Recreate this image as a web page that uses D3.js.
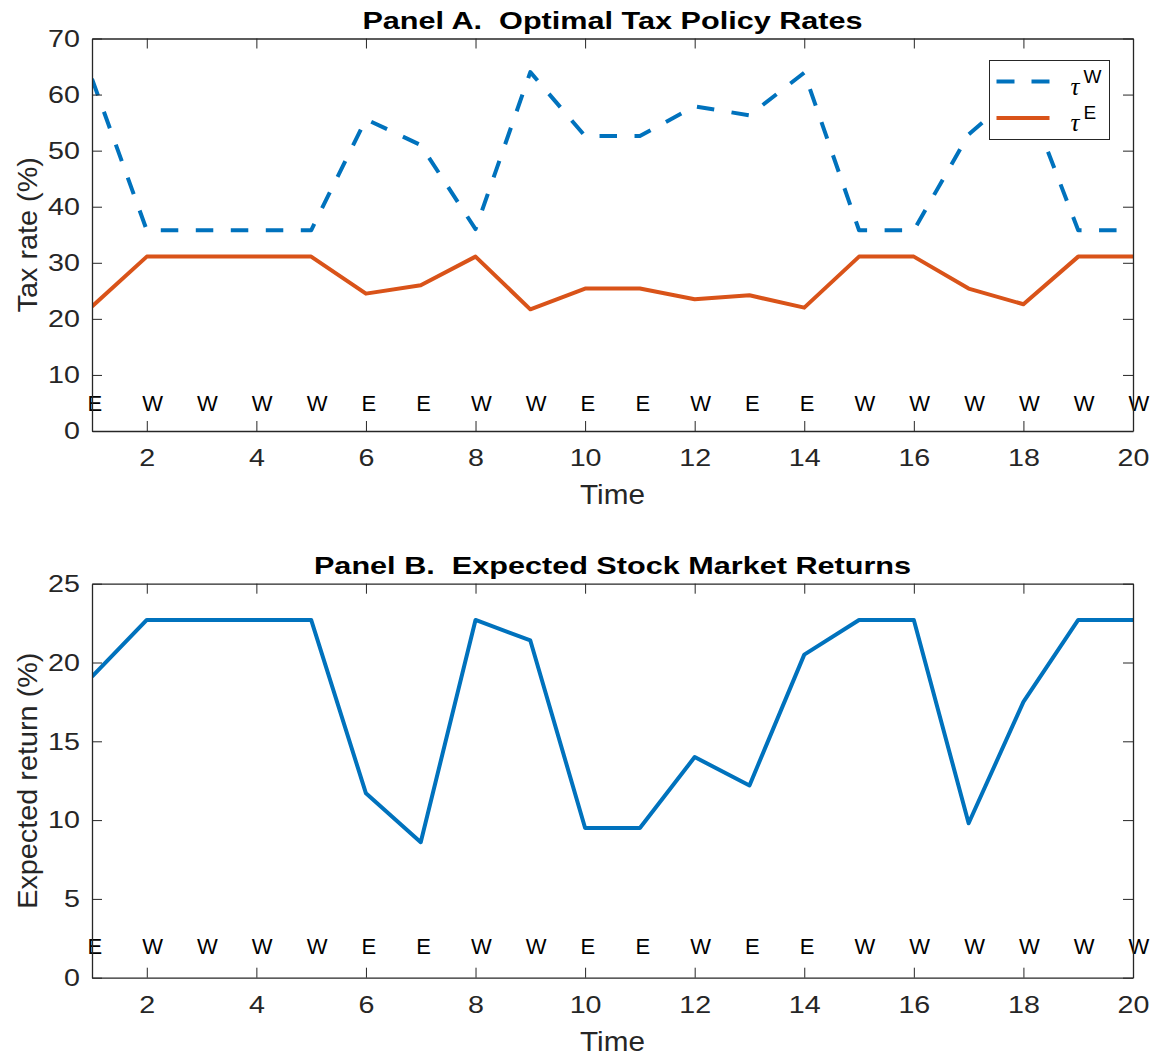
<!DOCTYPE html>
<html>
<head>
<meta charset="utf-8">
<script src="https://cdn.jsdelivr.net/npm/d3@7"></script>
<style>
  html, body { margin: 0; padding: 0; background: #fff; }
  svg { display: block; }
  text { font-family: "Liberation Sans", Arial, Helvetica, sans-serif; white-space: pre; }
</style>
</head>
<body>
<svg id="chart" width="1162" height="1061"></svg>
<script>
// Time periods and the party in power (E / W) in each period
const periods = [1, 2, 3, 4, 5, 6, 7, 8, 9, 10, 11, 12, 13, 14, 15, 16, 17, 18, 19, 20];
const regimes = ["E", "W", "W", "W", "W", "E", "E", "W", "W", "E", "E", "W", "E", "E", "W", "W", "W", "W", "W", "W"];

// Panel A: optimal tax rates (%)
const tauW = [62.8, 35.8, 35.8, 35.8, 35.8, 55.6, 51.0, 36.0, 64.0, 52.6, 52.6, 57.9, 56.3, 63.9, 35.8, 35.8, 52.9, 61.2, 35.8, 35.8];
const tauE = [22.2, 31.1, 31.1, 31.1, 31.1, 24.5, 26.0, 31.1, 21.7, 25.4, 25.4, 23.5, 24.2, 22.0, 31.1, 31.1, 25.4, 22.6, 31.1, 31.1];

// Panel B: expected stock market return (%)
const expReturn = [19.1, 22.7, 22.7, 22.7, 22.7, 11.7, 8.6, 22.7, 21.4, 9.5, 9.5, 14.0, 12.2, 20.5, 22.7, 22.7, 9.8, 17.5, 22.7, 22.7];

// Axis ticks
const xTicks = [2, 4, 6, 8, 10, 12, 14, 16, 18, 20];
const yTicksA = [0, 10, 20, 30, 40, 50, 60, 70];
const yTicksB = [0, 5, 10, 15, 20, 25];

const BLUE = "#0072BD", ORANGE = "#D95319", AXIS = "#262626";
const TICK_STRETCH = 1.17, TITLE_STRETCH = 1.25, LABEL_STRETCH = 1.03;

const svg = d3.select("#chart");

// widen tick labels horizontally while keeping their anchor point fixed
function stretchTicks(axisG, s) {
  axisG.selectAll(".tick text").each(function () {
    const t = d3.select(this);
    const x = +t.attr("x") || 0;
    t.attr("x", x / s).attr("transform", `scale(${s},1)`);
  });
}

function panel(opts) {
  const { top, bottom, left, right, yMax, yTicks, title, yLabel, regimeY, series, legend, id } = opts;
  const x = d3.scaleLinear().domain([1, 20]).range([left, right]);
  const y = d3.scaleLinear().domain([0, yMax]).range([bottom, top]);
  const g = svg.append("g");

  g.append("clipPath").attr("id", id).append("rect")
    .attr("x", left).attr("y", top).attr("width", right - left).attr("height", bottom - top);

  // regime letters along the bottom of the plot
  g.append("g").selectAll("text").data(periods).join("text")
    .attr("x", d => x(d)).attr("dx", -4.5)
    .attr("y", y(regimeY)).attr("dy", "0.36em")
    .attr("font-size", 22).attr("fill", "#000")
    .text((d, i) => regimes[i]);

  // data lines
  series.forEach(s => {
    g.append("path")
      .datum(s.values)
      .attr("clip-path", `url(#${id})`)
      .attr("fill", "none")
      .attr("stroke", s.color)
      .attr("stroke-width", 4)
      .attr("stroke-linejoin", "round")
      .attr("stroke-dasharray", s.dash || null)
      .attr("d", d3.line().x((d, i) => x(periods[i])).y(d => y(d)));
  });

  // axes: bottom/left with labels, top/right as plain inward ticks
  const tickLen = 10;
  const bottomAx = d3.axisBottom(x).tickValues(xTicks).tickSizeInner(-tickLen).tickSizeOuter(0).tickPadding(18);
  const topAx = d3.axisTop(x).tickValues(xTicks).tickSizeInner(-tickLen).tickSizeOuter(0).tickFormat("");
  const leftAx = d3.axisLeft(y).tickValues(yTicks).tickSizeInner(-tickLen).tickSizeOuter(0).tickPadding(12);
  const rightAx = d3.axisRight(y).tickValues(yTicks).tickSizeInner(-tickLen).tickSizeOuter(0).tickFormat("");

  const axes = [
    g.append("g").attr("transform", `translate(0,${bottom})`).call(bottomAx),
    g.append("g").attr("transform", `translate(0,${top})`).call(topAx),
    g.append("g").attr("transform", `translate(${left},0)`).call(leftAx),
    g.append("g").attr("transform", `translate(${right},0)`).call(rightAx)
  ];
  axes.forEach(a => {
    a.select(".domain").attr("stroke", AXIS).attr("stroke-width", 1.3);
    a.selectAll(".tick line").attr("stroke", AXIS).attr("stroke-width", 1);
    a.selectAll(".tick text").attr("fill", AXIS).attr("font-size", 24.5)
      .attr("font-family", '"Liberation Sans", Arial, sans-serif');
    stretchTicks(a, TICK_STRETCH);
  });

  // title
  g.append("text")
    .attr("transform", `translate(${(left + right) / 2},${top - 10}) scale(${TITLE_STRETCH},1)`)
    .attr("text-anchor", "middle").attr("font-size", 24.5).attr("font-weight", "bold")
    .attr("fill", "#000").text(title);

  // x label
  g.append("text")
    .attr("transform", `translate(${(left + right) / 2},${bottom + 73}) scale(1.06,1)`)
    .attr("text-anchor", "middle").attr("font-size", 28).attr("fill", AXIS).text("Time");

  // y label
  g.append("text")
    .attr("transform", `translate(37,${(top + bottom) / 2}) rotate(-90) scale(${LABEL_STRETCH},1)`)
    .attr("text-anchor", "middle").attr("font-size", 28).attr("fill", AXIS).text(yLabel);

  if (legend) {
    const lx = 989.5, ly = 60.5, lw = 120, lh = 79;
    const lg = g.append("g");
    lg.append("rect").attr("x", lx).attr("y", ly).attr("width", lw).attr("height", lh)
      .attr("fill", "#fff").attr("stroke", AXIS).attr("stroke-width", 1);
    legend.forEach((item, i) => {
      const cy = ly + 21 + i * 36.5;
      lg.append("line").attr("x1", lx + 7).attr("x2", lx + 60).attr("y1", cy).attr("y2", cy)
        .attr("stroke", item.color).attr("stroke-width", 4)
        .attr("stroke-dasharray", item.dash || null);
      const t = lg.append("text").attr("x", lx + 81).attr("y", cy + 13).attr("fill", "#000");
      t.append("tspan").attr("font-family", '"Liberation Serif", "DejaVu Serif", serif')
        .attr("font-style", "italic").attr("font-size", 25).text("τ");
      t.append("tspan").attr("dy", -12).attr("dx", 4).attr("font-size", 19).text(item.sup);
    });
  }
}

panel({
  id: "clipA", top: 38.5, bottom: 431, left: 92, right: 1133, yMax: 70, yTicks: yTicksA,
  title: "Panel A.  Optimal Tax Policy Rates", yLabel: "Tax rate (%)", regimeY: 5,
  series: [
    { values: tauW, color: BLUE, dash: "17.5,17.5" },
    { values: tauE, color: ORANGE }
  ],
  legend: [
    { color: BLUE, dash: "18,17", sup: "W" },
    { color: ORANGE, sup: "E" }
  ]
});

panel({
  id: "clipB", top: 583.7, bottom: 977.7, left: 92, right: 1133, yMax: 25, yTicks: yTicksB,
  title: "Panel B.  Expected Stock Market Returns", yLabel: "Expected return (%)", regimeY: 2,
  series: [{ values: expReturn, color: BLUE }]
});
</script>
</body>
</html>
